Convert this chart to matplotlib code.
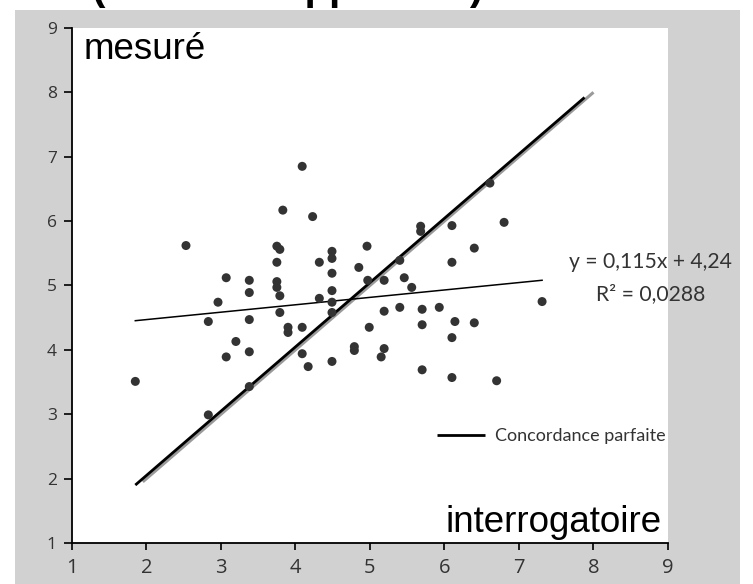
import matplotlib
matplotlib.use('Agg')
import matplotlib.pyplot as plt
from matplotlib.patches import Rectangle

# interrogatoire (x) vs mesuré (y)
x_vals = [1.85, 2.53, 3.07, 2.96, 2.83, 3.38, 3.38, 3.38, 3.20, 3.07,
          3.38, 3.38, 2.83, 3.75, 3.79, 3.75, 3.75, 3.75, 3.79, 3.79,
          3.83, 3.90, 3.90, 4.09, 4.09, 4.09, 4.17, 4.23, 4.32, 4.32,
          4.49, 4.49, 4.49, 4.49, 4.49, 4.49, 4.49, 4.85, 4.79, 4.79,
          4.96, 4.97, 4.99, 5.19, 5.19, 5.19, 5.15, 5.40, 5.46, 5.40,
          5.56, 5.68, 5.68, 5.70, 5.70, 5.70, 5.93, 6.10, 6.10, 6.14,
          6.10, 6.10, 6.40, 6.40, 6.61, 6.80, 6.70, 7.31]
y_vals = [3.51, 5.62, 5.12, 4.74, 4.44, 5.08, 4.89, 4.47, 4.13, 3.89,
          3.97, 3.43, 2.99, 5.61, 5.56, 5.36, 5.06, 4.97, 4.84, 4.58,
          6.17, 4.35, 4.27, 6.85, 4.35, 3.94, 3.74, 6.07, 5.36, 4.80,
          5.53, 5.42, 5.19, 4.92, 4.74, 4.58, 3.82, 5.28, 4.05, 3.99,
          5.61, 5.08, 4.35, 5.08, 4.60, 4.02, 3.89, 5.39, 5.12, 4.66,
          4.97, 5.92, 5.84, 4.63, 4.39, 3.69, 4.66, 5.93, 5.36, 4.44,
          4.19, 3.57, 5.58, 4.42, 6.59, 5.98, 3.52, 4.75]

slope = 0.115
intercept = 4.24
r2 = 0.0288

# perfect agreement line (black) and its grey shadow
conc_x = [1.85, 7.88]
conc_y = [1.90, 7.92]
shadow_x = [1.95, 8.0]
shadow_y = [1.95, 8.0]

ticks = [1, 2, 3, 4, 5, 6, 7, 8, 9]

fig = plt.figure(figsize=(7.53, 5.84), dpi=100)
fig.patch.set_facecolor('white')
fig.patches.append(Rectangle((0.0199, 0.0), 0.9628, 0.983, transform=fig.transFigure,
                             facecolor='#d1d1d1', edgecolor='none', zorder=-5))

# cut-off heading at the very top (only the descenders show)
fig.text(0.122, 1 + 0.5 / 584, '(données appariées)', fontsize=29, fontweight='bold',
         family='Liberation Sans', ha='left', va='baseline', zorder=5)

ax = fig.add_axes([0.0956, 0.0702, 0.7915, 0.882])
ax.set_zorder(1)
ax.set_facecolor('white')
ax.set_xlim(1, 9)
ax.set_ylim(1, 9)

ax.plot(shadow_x, shadow_y, color='#9a9a9a', lw=2.2, solid_capstyle='butt', zorder=2)
conc_line, = ax.plot(conc_x, conc_y, color='black', lw=2.0, solid_capstyle='butt',
                     zorder=3, label='Concordance parfaite')

fit_x = [min(x_vals), max(x_vals)]
fit_y = [slope * v + intercept for v in fit_x]
ax.plot(fit_x, fit_y, color='black', lw=1.1, zorder=3)

ax.scatter(x_vals, y_vals, s=42, color='#333333', edgecolors='none', zorder=4)

ax.text(8.77, 5.36, 'y = 0,115x + 4,24', fontsize=15.2, family='Lato', color='#333333',
        ha='center', va='center')
ax.text(8.77, 4.86, 'R² = 0,0288', fontsize=15.2, family='Lato', color='#333333',
        ha='center', va='center')

ax.text(1.15, 8.52, 'mesuré', fontsize=26.5, family='Liberation Sans', ha='left', va='baseline')
ax.text(8.91, 1.17, 'interrogatoire', fontsize=26.5, family='Liberation Sans',
        ha='right', va='baseline')

ax.legend(handles=[conc_line], loc='center left', bbox_to_anchor=(0.612, 0.208),
          frameon=False, borderpad=0, borderaxespad=0, handlelength=2.7,
          handletextpad=0.55, prop={'family': 'Lato', 'size': 13}, labelcolor='#333333')

for side in ['top', 'right']:
    ax.spines[side].set_visible(False)
for side in ['left', 'bottom']:
    ax.spines[side].set_linewidth(1.3)
    ax.spines[side].set_color('black')

ax.set_xticks(ticks)
ax.set_yticks(ticks)
ax.set_xticklabels([str(t) for t in ticks], family='Open Sans', fontsize=14.5, color='#333333')
ax.set_yticklabels([str(t) for t in ticks], family='Open Sans', fontsize=12.5, color='#333333')
ax.tick_params(axis='x', direction='out', length=5, width=1.2, pad=6)
ax.tick_params(axis='y', direction='out', length=6, width=1.2, pad=5)

fig.savefig('out.png', dpi=100, facecolor=fig.get_facecolor())
